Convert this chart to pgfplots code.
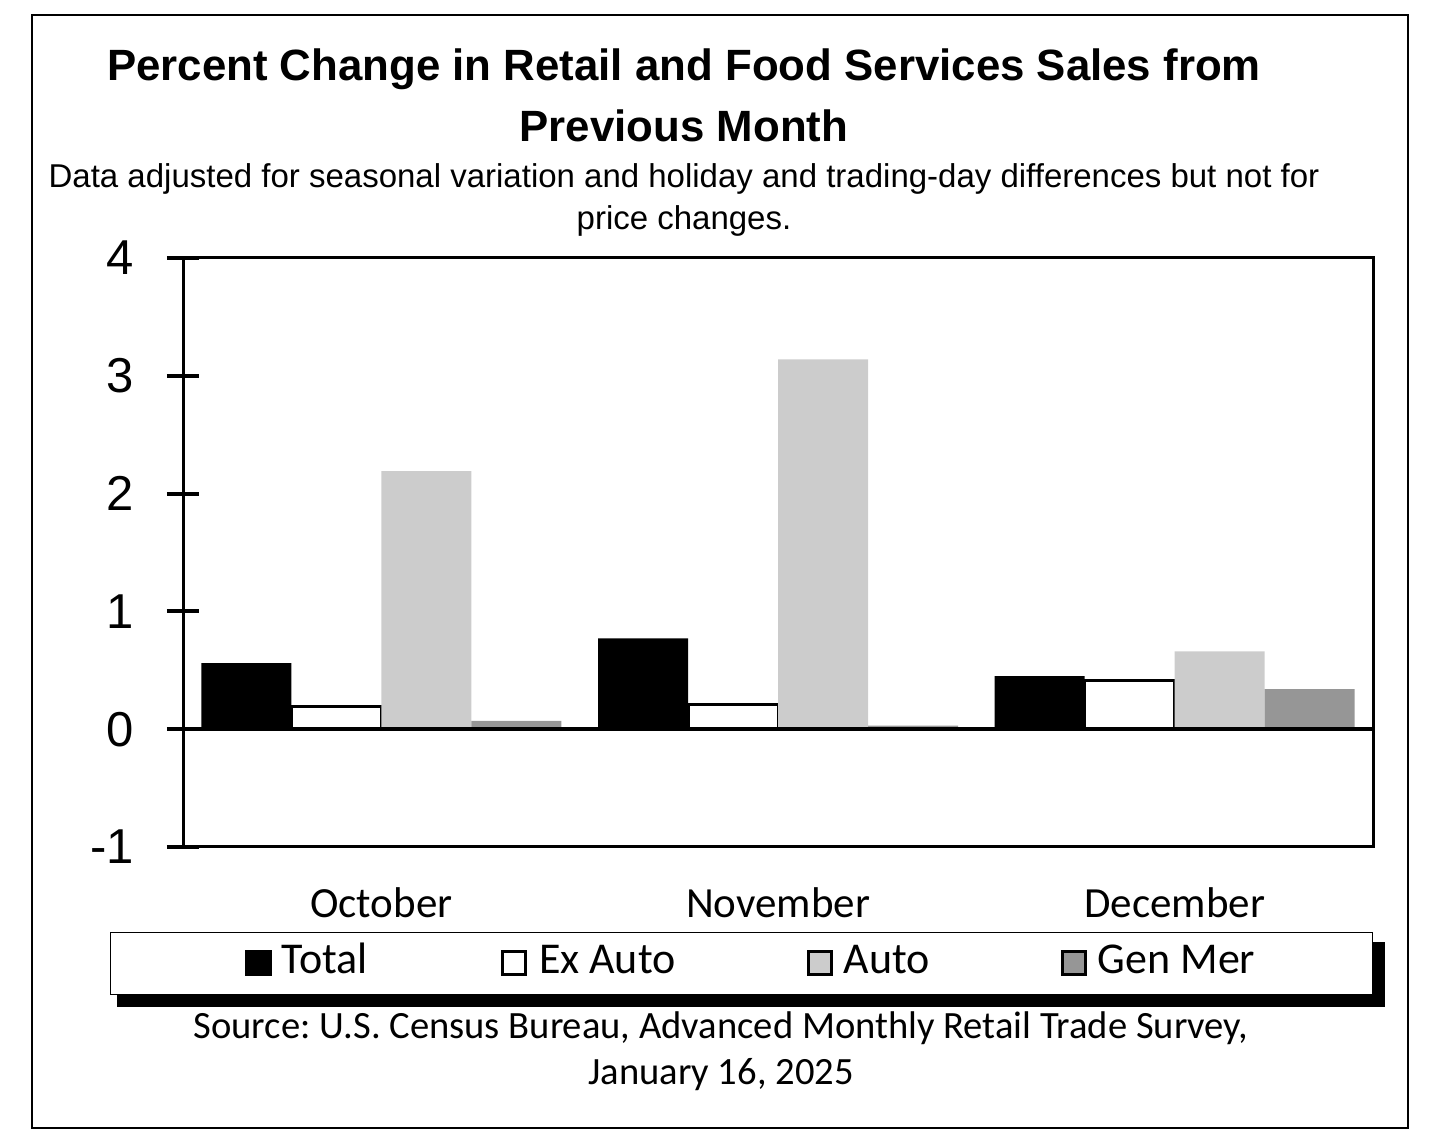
\documentclass[border=0pt]{standalone}
\usepackage{pgfplots}
\pgfplotsset{compat=1.18}
\usepackage{fontspec}
\setmainfont{Liberation Sans}
\newfontfamily\carlito{Carlito}
\definecolor{autogray}{HTML}{CCCCCC}
\definecolor{gengray}{HTML}{969696}
\begin{document}
\frenchspacing
\begin{tikzpicture}[x=0.5pt,y=0.5pt]
\path[use as bounding box] (0,0) rectangle (1440,1133);
\draw[line width=1.1pt] (32,5) rectangle (1408,1118);
\node[font=\fontsize{21.9}{26}\selectfont\bfseries] at (684,1064) {Percent Change in Retail and Food Services Sales from};
\node[font=\fontsize{21.9}{26}\selectfont\bfseries] at (684,1007) {Previous Month};
\node[font=\fontsize{16.5}{20}\selectfont] at (684,954) {Data adjusted for seasonal variation and holiday and trading-day differences but not for};
\node[font=\fontsize{16.5}{20}\selectfont] at (684,912) {price changes.};
\node[font=\carlito\fontsize{19.3}{23}\selectfont] at (721,105) {Source: U.S. Census Bureau, Advanced Monthly Retail Trade Survey,};
\node[font=\carlito\fontsize{19.3}{23}\selectfont] at (721,58) {January 16, 2025};
\fill[black] (117,126) rectangle (1385,191);
\begin{axis}[
  at={(91.5pt,143pt)}, anchor=south west,
  scale only axis, width=595pt, height=294.5pt,
  xmin=-0.5, xmax=2.5, ymin=-1, ymax=4,
  ybar=0pt, bar width=45pt,
  xtick={0,1,2}, xticklabels={October,November,December},
  xtick style={draw=none},
  xticklabel style={font=\carlito\fontsize{21.5}{25}\selectfont, yshift=-9pt},
  ytick={-1,0,1,2,3,4},
  ytick pos=left,
  tick align=center, major tick length=16pt,
  ytick style={line width=2pt, black},
  yticklabel style={font=\fontsize{24.5}{28}\selectfont, xshift=-13pt},
  /pgf/number format/assume math mode=true,
  axis line style={line width=1.5pt},
  legend columns=4,
  legend style={at={(0.469,-0.198)}, anchor=center, draw=black, fill=white,
    font=\carlito\fontsize{22}{26}\selectfont, inner xsep=56.5pt, inner ysep=4pt,
    nodes={text height=14.5pt, text depth=4.5pt},
    /tikz/every even column/.append style={column sep=52.5pt}},
  legend image code/.code={\path (-11.5pt,0pt); \draw[#1, line width=1.7pt] (0.5pt,-5.5pt) rectangle (12pt,6pt); \path (16pt,0pt);},
]
\addplot[fill=black, draw=none] coordinates {(0,0.56) (1,0.77) (2,0.45)};
\addlegendentry{Total}
\addplot[fill=white, draw=black, line width=1.5pt] coordinates {(0,0.19) (1,0.21) (2,0.41)};
\addlegendentry{Ex Auto}
\addplot[fill=autogray, draw=none] coordinates {(0,2.19) (1,3.14) (2,0.66)};
\addlegendentry{Auto}
\addplot[fill=gengray, draw=none] coordinates {(0,0.07) (1,0.03) (2,0.34)};
\addlegendentry{Gen Mer}
\draw[line width=2pt] (axis cs:-0.5,0) -- (axis cs:2.5,0);
\end{axis}
\end{tikzpicture}
\end{document}
